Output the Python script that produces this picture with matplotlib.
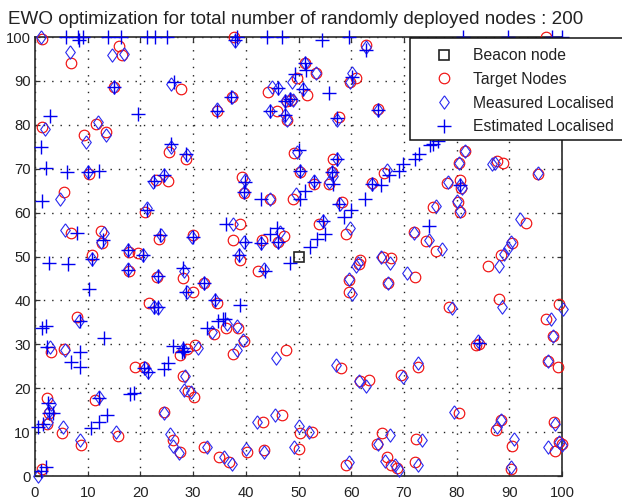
import matplotlib
matplotlib.use('Agg')
import matplotlib.pyplot as plt
from matplotlib.patches import Rectangle
import numpy as np

plt.rcParams['font.family'] = ['Liberation Sans', 'DejaVu Sans']

beacon = [(50, 50)]

# values
target = [
    (1.4, 99.6), (6.8, 94), (16, 98), (16.6, 95.9), (14.9, 88.5), (1.3, 79.4), (11.6, 80.2), (9.3, 77.7),
    (13.5, 78.4), (5.5, 64.8), (10.3, 68.9), (27.7, 88.2), (25.4, 73.8), (28.7, 72.1), (23, 67.4), (25.3, 67.3),
    (20.8, 60.1), (6.8, 55.4), (12.5, 55.8), (12.8, 53.1), (23.6, 54), (29.9, 54.9), (37.8, 99.9), (37.3, 86.4),
    (34.6, 83.1), (44.3, 87.5), (45.9, 83.2), (47.9, 81.1), (47.9, 85.5), (48.5, 85.6), (49.8, 90.6), (51.2, 94),
    (51.7, 86.9), (53.3, 91.7), (49.2, 73.5), (50.3, 69.3), (39.3, 68), (39.7, 64.5), (44.5, 63), (49, 63),
    (38.9, 57.5), (37.6, 53.7), (43, 53.7), (47.3, 54.7), (46.2, 53.3), (38.9, 49.2), (53, 66.6), (55.8, 66.6),
    (56.6, 72.1), (56.3, 69.3), (58.2, 62.5), (53.8, 57.5), (59, 55.2), (57.6, 81.7), (60.9, 90.7), (59.7, 89.8),
    (62.8, 98.2), (65, 83.5), (66.3, 69.1), (64, 66.7), (80.4, 71.2), (81.6, 74.1), (87.6, 71.8), (88.8, 71.2),
    (95.5, 68.9), (78.1, 66.7), (80.7, 67.4), (80.9, 65.5), (80.3, 62.5), (80.7, 60.1), (75.6, 61.2), (93.2, 57.7),
    (90.5, 53), (72, 55.5), (74.2, 53.5), (76.1, 51.2), (97, 100), (10.9, 50.4), (17.8, 51.1), (19.6, 50.8),
    (17.9, 46.6), (23.2, 45.4), (28, 45.1), (32.1, 43.9), (30, 42), (21.6, 39.5), (34.6, 39.4), (7.9, 36.2),
    (38.5, 33.8), (36.2, 33.7), (34, 32.4), (3, 28.3), (5.5, 28.9), (19, 24.8), (20.6, 24.9), (27.5, 27.6),
    (28.8, 28.9), (30.4, 29.9), (37.5, 27.8), (39.6, 30.8), (47.7, 28.6), (28, 22.8), (29, 19.4), (30.1, 18.1),
    (24.5, 14.5), (11.4, 17.3), (2.3, 17.7), (2.6, 14.3), (2.3, 11.8), (5.1, 9.7), (15.7, 9), (8.8, 7.1),
    (26.1, 8.2), (27.5, 5.4), (32.1, 6.7), (35, 4.3), (36.8, 3.3), (40.3, 5.5), (43.4, 5.9), (50.1, 6.2),
    (43.2, 12.2), (46.8, 13.9), (50.2, 9.7), (52.5, 10.1), (1.4, 1.7), (42.4, 46.7), (61.7, 49.1), (61.4, 48.3),
    (66, 49.8), (67.6, 49.6), (59.5, 44.7), (59.5, 41.8), (66.9, 43.9), (72.1, 45.4), (85.9, 47.9), (88.5, 50.4),
    (88.1, 40.3), (78.6, 38.4), (99.5, 39.1), (97, 35.8), (98.3, 31.9), (99.3, 24.8), (97.3, 26.2), (83.7, 29.9),
    (84.2, 30.1), (72.6, 24.9), (69.5, 23), (63.3, 21.9), (61.7, 21.7), (58.1, 24.5), (80.4, 14.3), (87.4, 10.5),
    (88.5, 12.8), (98.4, 12.2), (90.5, 6.9), (65.8, 9.7), (64.9, 7.4), (72.3, 8.4), (72.1, 3.1), (66.8, 4.4),
    (67.6, 2.5), (68.7, 1.9), (59, 2.5), (90.3, 1.5), (98.7, 5.7), (100, 7.4), (99.5, 7.8),
]

measured = [
    (1.2, 99.9), (6.7, 96.5), (14.6, 95.9), (16.8, 96.1), (15, 88.7), (1.9, 79), (12, 80.7), (9.6, 76),
    (13.5, 77.7), (4.8, 63.2), (10.1, 69.2), (25.9, 89.4), (25.9, 74.9), (28.8, 73.1), (22.3, 67), (24.5, 68.6),
    (21.2, 61), (5.6, 56), (13, 55.4), (12.5, 53.4), (23.9, 54.9), (29.8, 54.5), (38, 99.2), (37.3, 86.4),
    (34.5, 83.5), (44.9, 88.7), (46.1, 88.3), (44.6, 83.2), (47.4, 82.2), (47.9, 81.2), (47.5, 85.5), (48.9, 85.6),
    (48.3, 85.8), (48.7, 89.8), (50.8, 88.1), (53.3, 91.7), (51.2, 94), (49.8, 73.8), (50.3, 69.5), (39.8, 67.4),
    (39.7, 64.7), (44.5, 63), (49.5, 64.2), (37.5, 57.5), (39.7, 53.3), (42.8, 53), (46.5, 55.6), (46.2, 53.3),
    (38.8, 50.3), (53, 67.2), (56.3, 69.3), (56.5, 68.4), (57.3, 72.3), (57.8, 61.9), (54.7, 58), (59.8, 56.6),
    (57.4, 81.1), (60.1, 91.7), (59.7, 89.8), (62.8, 97.8), (65, 83.4), (66.7, 69.7), (64, 66.6), (55.7, 67),
    (80.4, 71.2), (81.6, 74.1), (86.7, 71), (87.2, 71.2), (95.5, 69), (78.3, 67), (80.7, 66.4), (81, 65.7),
    (80.1, 62.6), (80.7, 60.3), (76, 61.5), (92.1, 58.5), (90.3, 53.4), (72, 55.3), (74.7, 53.8), (77.2, 51.8),
    (89.7, 51.9), (10.9, 49.4), (17.7, 51.5), (20.4, 50.4), (17.6, 47.1), (23.3, 45.6), (28.3, 46.8), (32.1, 43.9),
    (28.9, 42), (23.4, 38.2), (22.5, 38.6), (34.2, 40.1), (8.4, 35.2), (36.4, 34.7), (38.4, 34.2), (33.5, 32.9),
    (2.9, 29.3), (5.7, 28.7), (20.9, 24.5), (21.5, 23.8), (28.1, 28.9), (31, 29.1), (38.4, 28.7), (39.4, 31),
    (45.7, 26.8), (28.5, 22.8), (28.2, 19.5), (29.6, 19.2), (24.4, 14.3), (12.2, 17.9), (3, 16.3), (2.7, 14.7),
    (2.5, 12.2), (5.4, 11.2), (15.4, 10.1), (8.5, 8.1), (25.6, 9.6), (26.1, 6.9), (27.3, 5.2), (32.7, 6.7),
    (35.9, 4.4), (37.3, 2.7), (40.1, 6.2), (43.5, 5.5), (49.2, 6.7), (42.2, 12.2), (45.6, 13.8), (50, 11.5),
    (51.9, 10.1), (0.6, 0), (43.5, 47.1), (60.9, 47.9), (61.2, 48.5), (65.7, 49.8), (67.4, 48.6), (59.5, 44.9),
    (60.1, 41.4), (66.9, 43.9), (70.5, 46.2), (88, 47.9), (89, 50.6), (88.6, 38.5), (79.1, 38.2), (100.1, 38),
    (97.9, 35.8), (98.3, 31.9), (97.4, 26.3), (84.1, 30.8), (72.6, 25.8), (69.8, 22.6), (61.5, 21.7), (62.8, 20.5),
    (57.1, 25.2), (79.6, 14.5), (87.7, 11.2), (88.5, 12.8), (98.6, 11.9), (90.8, 8.4), (67.4, 9.3), (65, 7.4),
    (73.4, 8.2), (72.6, 2.5), (66.4, 3.5), (68.3, 2.4), (69, 1.4), (59.5, 3.1), (90.3, 2.1), (97.4, 6.7),
    (99.4, 7.8), (100, 7.1),
]

estimated = [
    (5.9, 100), (8.1, 100), (9.1, 100), (13.9, 100), (16.4, 100), (21.2, 100), (22.8, 100), (25.1, 100),
    (38.4, 100), (44, 100), (46.8, 100), (59.5, 100), (81.2, 100), (89.8, 100), (98.1, 100), (100, 100),
    (8.4, 99.3), (54.5, 99.3), (38, 99.3), (2.8, 81.9), (19.6, 82.4), (1.1, 75), (2.1, 70.1), (6, 69.2),
    (12.2, 69.5), (10.1, 69.2), (1.4, 62.7), (8, 55.4), (12.9, 53.8), (22.5, 67.2), (24.5, 68.6), (25.9, 75.6),
    (28.7, 73.3), (26.3, 89.8), (14.9, 88.5), (21.3, 60.7), (23.7, 54.9), (29.9, 54.5), (37.2, 86.4), (34.5, 83.2),
    (49.3, 91.5), (51.4, 92.5), (50.8, 88.1), (46.1, 88.3), (44.6, 83.2), (47.4, 82.2), (47.5, 85.5), (48.3, 85.8),
    (51.2, 94), (55.7, 87.3), (57.3, 81.5), (60.1, 91), (62.8, 97), (65, 83.4), (50, 74.2), (50.3, 69.4),
    (39.8, 67), (39.7, 64.7), (42.9, 63), (50.2, 63), (51.2, 65), (53, 67), (56.6, 66.6), (57.3, 72.3),
    (56.3, 69.3), (57.7, 62), (59.9, 60.7), (58.6, 58.9), (62.6, 63), (65.6, 66.2), (67.2, 68.5), (69, 69.5),
    (69.8, 71), (72.1, 72.3), (72.9, 73.4), (75, 75.4), (75.5, 75.6), (76.5, 76.3), (44.6, 55.1), (46, 56.4),
    (42.8, 53), (46.2, 53.3), (54.7, 58.2), (55, 55.2), (53.6, 54.1), (52.1, 52.2), (48.4, 48.6), (39.8, 53.3),
    (36.2, 57.4), (64, 66.6), (74.7, 56.9), (80.7, 66.4), (2.7, 48.5), (6.3, 48.3), (10.9, 49.4), (17.7, 51.5),
    (20.4, 50.3), (17.6, 47), (23.3, 45.6), (28, 47.3), (32.1, 43.9), (28.7, 42), (22.5, 38.6), (23.3, 38.6),
    (34.2, 40.1), (10.3, 42.6), (38.9, 39), (8.5, 35.3), (1.3, 33.8), (2, 34.2), (13, 31.4), (32.6, 33.8),
    (34.8, 35.2), (35.6, 35.8), (36, 35.8), (26.1, 29.6), (28, 29.1), (28.2, 28.5), (27.8, 28.2), (2.2, 29.3),
    (8.5, 28.2), (6.8, 25.9), (8.5, 24.8), (25.3, 25.7), (24.4, 24.4), (20.6, 24.5), (21.4, 23.7), (18.7, 19),
    (18, 18.7), (12.2, 17.8), (2.4, 16.7), (3.5, 14.3), (13.7, 13.8), (12.2, 12.4), (10.6, 11), (1.6, 11.8),
    (0.6, 11.2), (2, 2.1), (1.1, 1.2), (43.7, 46.8), (38.8, 50.4), (2.6, 14.3), (84.2, 30.4),
]

ticks = [0, 10, 20, 30, 40, 50, 60, 70, 80, 90, 100]
title = 'EWO optimization for total number of randomly deployed nodes : 200'
labels = ['Beacon node', 'Target Nodes', 'Measured Localised', 'Estimated Localised']

diamond = [(0, 1), (0.72, 0), (0, -1), (-0.72, 0), (0, 1)]

fig = plt.figure(figsize=(6.22, 5.0), dpi=100)
ax = fig.add_axes([35 / 622, 1 - 476 / 500, 527 / 622, 439 / 500])

b = np.array(beacon)
t = np.array(target)
m = np.array(measured)
e = np.array(estimated)

ax.plot(b[:, 0], b[:, 1], 's', mfc='none', mec='#222222', ms=7.6, mew=1.2, clip_on=False, zorder=3, label=labels[0])
ax.plot(t[:, 0], t[:, 1], 'o', mfc='none', mec='#f01010', ms=7.6, mew=0.85, clip_on=False, zorder=3, label=labels[1])
ax.plot(m[:, 0], m[:, 1], marker=diamond, ls='none', mfc='none', mec='#2a2af0', ms=9.6, mew=0.8, clip_on=False, zorder=3, label=labels[2])
ax.plot(e[:, 0], e[:, 1], '+', color='#0000f0', ms=9.4, mew=1.0, clip_on=False, zorder=3, label=labels[3])

ax.set_xlim(0, 100)
ax.set_ylim(0, 100)
ax.set_xticks(ticks)
ax.set_yticks(ticks)
ax.tick_params(direction='in', top=True, right=True, length=3.5, width=0.9, color='#333333',
               labelsize=10.6, labelcolor='#222222')
ax.tick_params(axis='x', pad=7)
ax.tick_params(axis='y', pad=3)
ax.grid(True, color='#222222', linestyle=(0, (1, 5)), linewidth=1.0)
ax.set_axisbelow(True)
for s in ax.spines.values():
    s.set_linewidth(1.2)
    s.set_color('#2a2a2a')
ax.set_title(title, fontsize=13.6, color='#222222', x=-35 / 527 + 8 / 527, ha='left', pad=9)

# legend box runs off the right edge of the picture, frame drawn by hand
ax.add_patch(Rectangle((410 / 622, 1 - 140 / 500), 240 / 622, 102 / 500, transform=fig.transFigure,
                       fc='white', ec='#111111', lw=1.1, clip_on=False, zorder=4.9))
leg = ax.legend(loc='upper left', bbox_to_anchor=(410 / 622, 1 - 41 / 500), bbox_transform=fig.transFigure,
                fontsize=11.3, frameon=False, borderaxespad=0, borderpad=0.45, labelspacing=0.56,
                handlelength=3.43, handletextpad=0.13)
leg.set_zorder(5)
for txt in leg.get_texts():
    txt.set_color('#222222')

fig.savefig('out.png', dpi=100)
